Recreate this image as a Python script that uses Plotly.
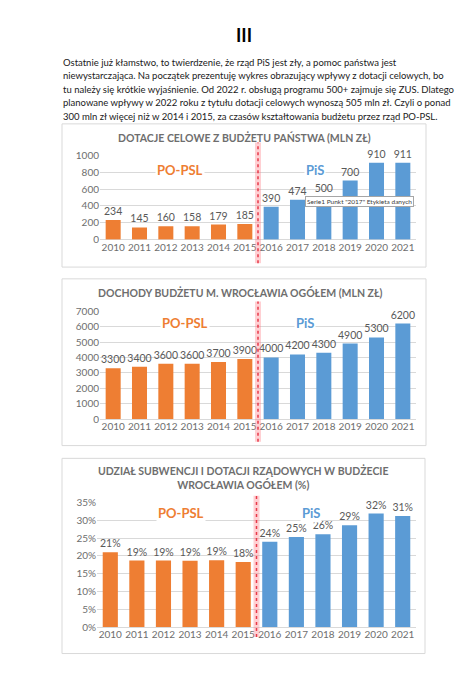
import plotly.graph_objects as go

W, H = 473, 680

years = ["2010", "2011", "2012", "2013", "2014", "2015",
         "2016", "2017", "2018", "2019", "2020", "2021"]
party = ["PO-PSL"] * 6 + ["PiS"] * 6

dotacje = [234, 145, 160, 158, 179, 185, 390, 474, 500, 700, 910, 911]
dochody = [3300, 3400, 3600, 3600, 3700, 3900, 4000, 4200, 4300, 4900, 5300, 6200]
udzial = [0.210, 0.187, 0.187, 0.186, 0.188, 0.183, 0.240, 0.253, 0.261, 0.286, 0.319, 0.312]

titles = ["DOTACJE CELOWE Z BUDŻETU PAŃSTWA (MLN ZŁ)",
          "DOCHODY BUDŻETU M. WROCŁAWIA OGÓŁEM (MLN ZŁ)",
          "UDZIAŁ SUBWENCJI I DOTACJI RZĄDOWYCH W BUDŻECIE<br>WROCŁAWIA OGÓŁEM (%)"]

heading = "III"
paragraph = [
    "Ostatnie już kłamstwo, to twierdzenie, że rząd PiS jest zły, a pomoc państwa jest",
    "niewystarczająca. Na początek prezentuję wykres obrazujący wpływy z dotacji celowych, bo",
    "tu należy się krótkie wyjaśnienie. Od 2022 r. obsługą programu 500+ zajmuje się ZUS. Dlatego",
    "planowane wpływy w 2022 roku z tytułu dotacji celowych wynoszą 505 mln zł. Czyli o ponad",
    "300 mln zł więcej niż w 2014 i 2015, za czasów kształtowania budżetu przez rząd PO-PSL.",
]
tooltip = 'Serie1 Punkt "2017" Etykieta danych'

ORANGE = "#EE7E33"
BLUE = "#5B9BD5"
GRAY = "#595959"
LGRAY = "#6E6E6E"
FONT = "Lato"

def px(x):
    return x / W

def py(y):
    return 1 - y / H

colors = [ORANGE if p == "PO-PSL" else BLUE for p in party]

fig = go.Figure()

charts = [
    dict(vals=dotacje, fmt="%{y}", xd=(92, 408), yd=(229, 143), rng=[0, 1000], dt=200,
         tickfmt="d", box=(54, 111, 418, 257), title_y=125, title_x=236,
         line=(130, 253), lab_y=158, po_x=172, pis_x=307),
    dict(vals=dochody, fmt="%{y}", xd=(92, 408), yd=(412, 302), rng=[0, 7000], dt=1000,
         tickfmt="d", box=(54, 269, 418, 439), title_y=283, title_x=232,
         line=(292, 435), lab_y=314, po_x=177, pis_x=297),
    dict(vals=udzial, fmt="%{y:.0%}", xd=(89, 408), yd=(624, 497), rng=[0, 0.35], dt=0.05,
         tickfmt=".0%", box=(54, 452, 417, 651), title_y=472, title_x=235,
         line=(490, 634), lab_y=508, po_x=173, pis_x=303),
]

shapes = []
annotations = []

for i, c in enumerate(charts):
    n = "" if i == 0 else str(i + 1)
    fig.add_trace(go.Bar(
        x=years, y=c["vals"], marker=dict(color=colors, line=dict(width=0)),
        texttemplate=c["fmt"], textposition="outside", cliponaxis=False,
        constraintext="none", textangle=0,
        textfont=dict(family=FONT, size=10.5, color=GRAY),
        xaxis="x" + n, yaxis="y" + n, showlegend=False, hoverinfo="skip",
    ))
    fig.update_layout(**{
        "xaxis" + n: dict(domain=[px(c["xd"][0]), px(c["xd"][1])], anchor="y" + n,
                          type="category", showgrid=False, showline=False, ticks="",
                          tickfont=dict(family=FONT, size=10, color=LGRAY), ticklen=0),
        "yaxis" + n: dict(domain=[py(c["yd"][0]), py(c["yd"][1])], anchor="x" + n,
                          range=c["rng"], dtick=c["dt"], tickformat=c["tickfmt"],
                          showgrid=True, gridcolor="#D9D9D9", gridwidth=1,
                          zeroline=True, zerolinecolor="#D9D9D9", zerolinewidth=1,
                          showline=False, ticks="",
                          tickfont=dict(family=FONT, size=10, color=LGRAY)),
    })
    b = c["box"]
    shapes.append(dict(type="rect", xref="paper", yref="paper",
                       x0=px(b[0]), x1=px(b[2]), y0=py(b[3]), y1=py(b[1]),
                       line=dict(color="#D9D9D9", width=1), fillcolor="rgba(0,0,0,0)",
                       layer="below"))
    # divider between 2015 and 2016
    shapes.append(dict(type="line", xref="x" + n, yref="paper", x0=5.5, x1=5.5,
                       y0=py(c["line"][1]), y1=py(c["line"][0]),
                       line=dict(color="rgba(255,120,130,0.35)", width=6)))
    shapes.append(dict(type="line", xref="x" + n, yref="paper", x0=5.5, x1=5.5,
                       y0=py(c["line"][1]), y1=py(c["line"][0]),
                       line=dict(color="#E8394A", width=1.5, dash="dot")))
    annotations.append(dict(text="<b>" + titles[i] + "</b>", xref="paper", yref="paper",
                            x=px(c["title_x"]), y=py(c["title_y"]), showarrow=False,
                            font=dict(family=FONT, size=10.5, color=LGRAY),
                            xanchor="center", yanchor="middle"))
    annotations.append(dict(text="<b>PO-PSL</b>", xref="paper", yref="paper",
                            x=px(c["po_x"]), y=py(c["lab_y"]), showarrow=False,
                            font=dict(family=FONT, size=13, color=ORANGE),
                            bgcolor="white", xanchor="center", yanchor="middle"))
    annotations.append(dict(text="<b>PiS</b>", xref="paper", yref="paper",
                            x=px(c["pis_x"]), y=py(c["lab_y"]), showarrow=False,
                            font=dict(family=FONT, size=13, color=BLUE),
                            bgcolor="white", xanchor="center", yanchor="middle"))

# tooltip box on chart 1
annotations.append(dict(text=tooltip, xref="paper", yref="paper", x=px(297), y=py(190),
                        showarrow=False, xanchor="left", yanchor="middle",
                        font=dict(family=FONT, size=6.5, color="#404040"),
                        bgcolor="white", bordercolor="#A6A6A6", borderwidth=1, borderpad=1))

# heading and paragraph
annotations.append(dict(text="<b>" + heading + "</b>", xref="paper", yref="paper",
                        x=px(236), y=py(20), showarrow=False,
                        font=dict(family=FONT, size=18, color="#000000"),
                        xanchor="center", yanchor="middle"))
line_ys = [48, 62, 76, 89, 103]
for t, yy in zip(paragraph, line_ys):
    annotations.append(dict(text=t, xref="paper", yref="paper", x=px(53), y=py(yy),
                            showarrow=False, xanchor="left", yanchor="middle",
                            font=dict(family=FONT, size=9.5, color="#1A1A1A")))

fig.update_layout(width=W, height=H, margin=dict(l=0, r=0, t=0, b=0),
                  paper_bgcolor="white", plot_bgcolor="white",
                  bargap=0.43, shapes=shapes, annotations=annotations)

fig.write_html("out.html")
